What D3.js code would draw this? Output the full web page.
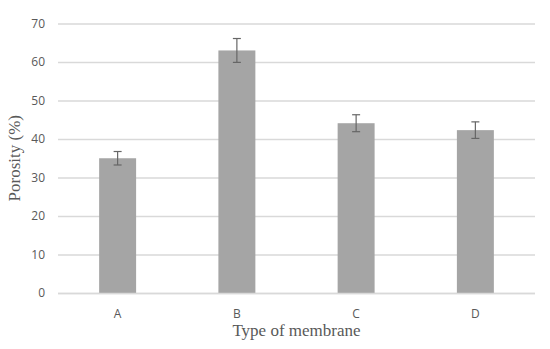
<!DOCTYPE html>
<meta charset="utf-8">
<style>
html, body { margin: 0; padding: 0; background: #fff; }
svg { display: block; }
.tick text { font-family: "Open Sans", "Liberation Sans", sans-serif; font-size: 12px; fill: #595959; }
.title { font-family: "Liberation Serif", "Times New Roman", serif; font-size: 17px; fill: #595959; }
</style>
<svg width="550" height="349"></svg>
<script src="https://d3js.org/d3.v7.min.js"></script>
<script>

var categories = ["A", "B", "C", "D"];
var porosity = [35.0, 63.0, 44.1, 42.3];
var errors = [1.75, 3.1, 2.2, 2.15];
var yTicks = [0, 10, 20, 30, 40, 50, 60, 70];

var data = categories.map(function(c, i) {
  return { name: c, value: porosity[i], err: errors[i] };
});

var svg = d3.select("svg");
var margin = { top: 23.5, right: 15, bottom: 56, left: 58 };
var width = 550 - margin.left - margin.right;
var height = 349 - margin.top - margin.bottom;

var g = svg.append("g")
    .attr("transform", "translate(" + margin.left + "," + margin.top + ")");

var x = d3.scaleBand()
    .domain(categories)
    .range([0, width])
    .paddingInner(0.69)
    .paddingOuter(0.345);

var y = d3.scaleLinear()
    .domain([0, 70])
    .range([height, 0]);

// gridlines + y labels
var yAxis = g.append("g")
    .call(d3.axisLeft(y).tickValues(yTicks).tickSize(-width).tickPadding(13));
yAxis.select(".domain").remove();
yAxis.selectAll(".tick line").attr("stroke", "#d9d9d9").attr("stroke-width", 1.3);

g.selectAll(".bar")
    .data(data)
  .enter().append("rect")
    .attr("class", "bar")
    .attr("x", function(d) { return x(d.name); })
    .attr("width", x.bandwidth())
    .attr("y", function(d) { return y(d.value); })
    .attr("height", function(d) { return height - y(d.value); })
    .attr("fill", "#a5a5a5");

// error bars
var eb = g.selectAll(".err")
    .data(data)
  .enter().append("g")
    .attr("class", "err")
    .attr("stroke", "#666")
    .attr("stroke-width", 1.2);

eb.append("line")
    .attr("x1", function(d) { return x(d.name) + x.bandwidth() / 2; })
    .attr("x2", function(d) { return x(d.name) + x.bandwidth() / 2; })
    .attr("y1", function(d) { return y(d.value + d.err); })
    .attr("y2", function(d) { return y(d.value - d.err); });

eb.selectAll(".cap")
    .data(function(d) { return [d.value + d.err, d.value - d.err].map(function(v) { return { name: d.name, v: v }; }); })
  .enter().append("line")
    .attr("x1", function(d) { return x(d.name) + x.bandwidth() / 2 - 4; })
    .attr("x2", function(d) { return x(d.name) + x.bandwidth() / 2 + 4; })
    .attr("y1", function(d) { return y(d.v); })
    .attr("y2", function(d) { return y(d.v); });

// x axis
var xAxis = g.append("g")
    .attr("transform", "translate(0," + height + ")")
    .call(d3.axisBottom(x).tickSize(0).tickPadding(16));
xAxis.select(".domain").attr("stroke", "#d9d9d9").attr("stroke-width", 1.3)
    .attr("d", "M0,0.5H" + width);

svg.append("text")
    .attr("class", "title")
    .attr("x", margin.left + width / 2)
    .attr("y", 336)
    .attr("text-anchor", "middle")
    .text("Type of membrane");

svg.append("text")
    .attr("class", "title")
    .attr("transform", "translate(20," + (margin.top + height / 2) + ") rotate(-90)")
    .attr("text-anchor", "middle")
    .text("Porosity (%)");

</script>
